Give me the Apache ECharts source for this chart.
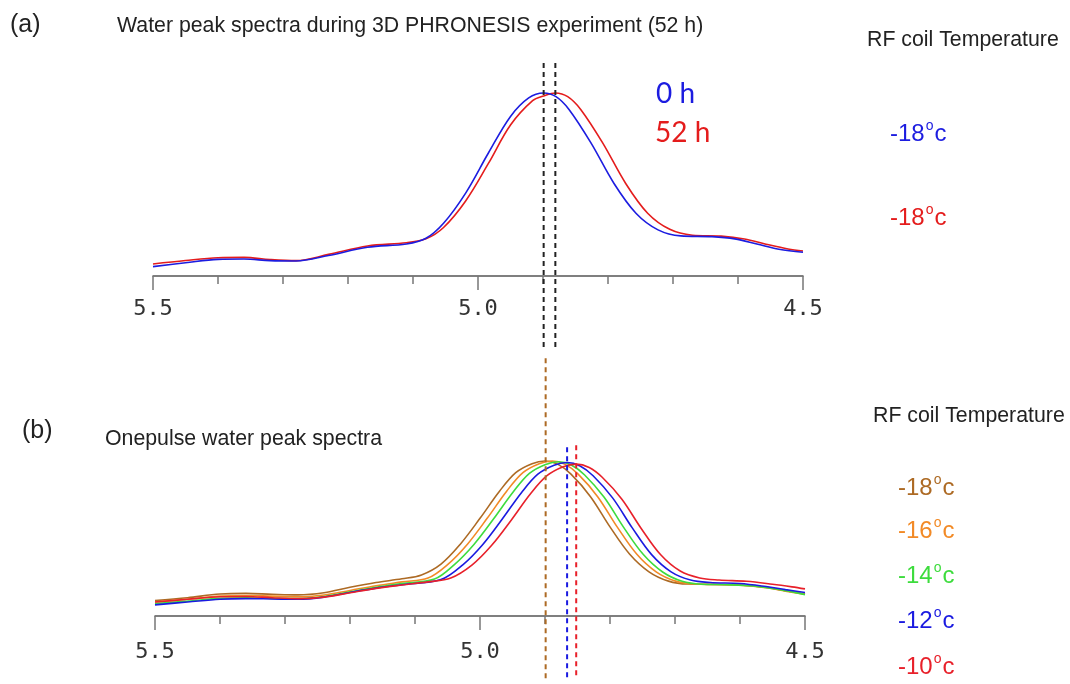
<!DOCTYPE html>
<html>
<head>
<meta charset="utf-8">
<script src="https://cdn.jsdelivr.net/npm/echarts@6/dist/echarts.min.js"></script>
<style>
  html, body { margin: 0; padding: 0; background: #ffffff; }
  #chart { width: 1070px; height: 684px; }
</style>
</head>
<body>
<div id="chart"></div>
<script>
// Water resonance: chemical shift (ppm) vs. relative intensity (peak = 100)

// (a) 3D PHRONESIS run, start and end of the 52 h acquisition
const water0h = [
  [5.500, 5.1], [5.450, 7.2], [5.400, 9.1], [5.360, 9.3], [5.320, 8.4], [5.280, 8.2],
  [5.230, 11.2], [5.170, 15.7], [5.110, 17.5], [5.080, 20.6], [5.053, 28.8], [5.019, 45.3],
  [4.984, 67.2], [4.950, 87.2], [4.922, 97.3], [4.899, 100], [4.880, 98.0], [4.860, 91.0],
  [4.826, 72.6], [4.791, 50.7], [4.757, 34.3], [4.723, 25.2], [4.688, 21.9], [4.640, 21.5],
  [4.605, 20.3], [4.571, 17.5], [4.537, 14.6], [4.500, 13.0]
];
const water52h = [
  [5.500, 6.6], [5.450, 8.5], [5.400, 10.0], [5.360, 10.2], [5.320, 9.0], [5.280, 8.4],
  [5.230, 11.8], [5.170, 16.4], [5.110, 18.2], [5.080, 20.3], [5.053, 26.5], [5.019, 41.0],
  [4.984, 61.5], [4.950, 82.5], [4.916, 95.8], [4.899, 98.4], [4.881, 100], [4.862, 98.0],
  [4.842, 91.0], [4.808, 72.6], [4.773, 50.7], [4.739, 34.3], [4.705, 25.5], [4.670, 22.3],
  [4.626, 21.8], [4.590, 20.2], [4.557, 17.4], [4.523, 14.8], [4.500, 13.7]
];
// peak positions marked with dashed guides: [ppm, top, bottom] (intensity units)
const peakGuidesA = [
  [4.899, 116.4, -39.3],
  [4.881, 116.4, -39.3]
];

// (b) one-pulse spectra at different RF coil temperatures
const coilM18 = [
  [5.500, 9.9], [5.450, 11.8], [5.400, 14.2], [5.360, 14.6], [5.320, 14.0], [5.280, 13.6],
  [5.240, 15.0], [5.200, 18.5], [5.160, 21.6], [5.120, 24.0], [5.090, 26.5], [5.060, 33.5],
  [5.030, 46.5], [5.000, 63.0], [4.970, 80.5], [4.945, 92.5], [4.920, 98.3], [4.900, 100],
  [4.880, 97.8], [4.860, 91.5], [4.830, 77.0], [4.800, 57.5], [4.770, 40.0], [4.740, 28.5],
  [4.710, 22.5], [4.680, 20.6], [4.640, 20.4], [4.600, 20.0], [4.560, 18.5], [4.530, 16.3],
  [4.500, 14.2]
];
const coilM16 = [
  [5.500, 9.0], [5.450, 10.8], [5.400, 12.8], [5.360, 13.2], [5.320, 12.8], [5.280, 12.4],
  [5.240, 13.6], [5.200, 16.5], [5.160, 19.5], [5.120, 22.0], [5.080, 24.5], [5.049, 33.5],
  [5.019, 46.5], [4.989, 63.0], [4.959, 80.5], [4.934, 92.5], [4.909, 98.3], [4.889, 100],
  [4.869, 97.8], [4.849, 91.5], [4.819, 77.0], [4.789, 57.5], [4.759, 40.0], [4.729, 28.5],
  [4.699, 22.5], [4.669, 20.6], [4.640, 20.3], [4.600, 19.8], [4.560, 18.2], [4.530, 16.0],
  [4.500, 14.0]
];
const coilM14 = [
  [5.500, 8.0], [5.450, 9.6], [5.400, 11.4], [5.360, 11.8], [5.320, 11.4], [5.280, 11.2],
  [5.240, 12.6], [5.200, 15.6], [5.160, 18.6], [5.120, 21.0], [5.070, 23.8], [5.039, 33.3],
  [5.009, 46.3], [4.979, 62.7], [4.949, 80.0], [4.924, 92.0], [4.899, 97.8], [4.879, 99.5],
  [4.859, 97.3], [4.839, 91.0], [4.809, 76.6], [4.779, 57.2], [4.749, 39.8], [4.719, 28.4],
  [4.689, 22.4], [4.659, 20.5], [4.620, 20.2], [4.580, 19.4], [4.540, 17.2], [4.500, 13.8]
];
const coilM12 = [
  [5.500, 7.2], [5.450, 9.0], [5.400, 10.8], [5.360, 11.2], [5.320, 11.0], [5.280, 10.8],
  [5.240, 12.2], [5.200, 15.2], [5.160, 18.0], [5.120, 20.2], [5.060, 23.5], [5.026, 33.2],
  [4.996, 46.0], [4.966, 62.4], [4.936, 79.7], [4.911, 91.5], [4.886, 97.3], [4.866, 99.0],
  [4.846, 96.8], [4.826, 90.5], [4.796, 76.2], [4.766, 57.0], [4.736, 39.6], [4.706, 28.5],
  [4.676, 23.2], [4.646, 21.6], [4.600, 21.0], [4.560, 19.0], [4.530, 17.0], [4.500, 15.2]
];
const coilM10 = [
  [5.500, 9.0], [5.450, 10.8], [5.400, 12.4], [5.360, 12.6], [5.320, 11.8], [5.280, 11.2],
  [5.240, 12.2], [5.200, 15.0], [5.160, 17.8], [5.120, 20.0], [5.080, 22.0], [5.045, 24.5],
  [5.012, 33.0], [4.982, 45.6], [4.952, 61.8], [4.922, 79.0], [4.897, 90.5], [4.872, 96.3],
  [4.852, 98.0], [4.832, 95.8], [4.812, 89.5], [4.782, 75.5], [4.752, 56.5], [4.722, 39.5],
  [4.692, 29.0], [4.662, 24.5], [4.632, 23.2], [4.590, 22.4], [4.550, 20.5], [4.520, 18.8],
  [4.500, 17.5]
];
// dashed guides at the -18, -12 and -10 degC peaks: [ppm, top, bottom]
const peakGuidesB = [
  [4.899, 166.3, -40.8],
  [4.866, 108.8, -40.8],
  [4.852, 110.1, -40.8]
];

const tickLabels = ['5.5', '5.0', '4.5'];
const legendA = ['0 h', '52 h'];
const tempsA = ['-18', '-18'];
const tempsB = ['-18', '-16', '-14', '-12', '-10'];

const C = {
  blue: '#1c1ce0', red: '#e41c1c',
  brown: '#ad6a24', orange: '#f28a26', green: '#3ddc3d', blueB: '#1a1ae0', redB: '#e8202a',
  axis: '#555555', tick: '#777777', text: '#222222'
};

const chart = echarts.init(document.getElementById('chart'), null, { renderer: 'canvas' });

function ppmAxis(gridIndex, margin) {
  return {
    type: 'value', gridIndex: gridIndex, inverse: true,
    min: 4.5, max: 5.5, interval: 0.5,
    axisLine: { show: true, onZero: false, lineStyle: { color: C.axis, width: 1.5 } },
    axisTick: { show: true, length: 14, lineStyle: { color: C.tick, width: 1.5 } },
    minorTick: { show: true, splitNumber: 5, length: 8, lineStyle: { color: C.tick, width: 1.5 } },
    splitLine: { show: false },
    minorSplitLine: { show: false },
    axisLabel: {
      margin: margin, fontFamily: 'DejaVu Sans Mono', fontSize: 22, color: '#333333',
      formatter: function (v) {
        const s = (Math.round(v * 10) / 10).toFixed(1);
        return tickLabels.indexOf(s) >= 0 ? s : '';
      }
    }
  };
}

function spectrum(data, color, axisIdx) {
  return {
    type: 'line', data: data, xAxisIndex: axisIdx, yAxisIndex: axisIdx,
    smooth: 0.35, showSymbol: false, symbol: 'none', silent: true, clip: false,
    lineStyle: { color: color, width: 1.6 }
  };
}

// vertical dashed guide from value[1] down to value[2] at chemical shift value[0]
function renderGuide(params, api) {
  const x = api.value(0);
  const p1 = api.coord([x, api.value(1)]);
  const p2 = api.coord([x, api.value(2)]);
  return {
    type: 'line',
    shape: { x1: p1[0], y1: p1[1], x2: p2[0], y2: p2[1] },
    style: { stroke: api.visual('color'), lineWidth: 2, lineDash: [5, 4] }
  };
}

function guides(rows, colors, axisIdx) {
  return {
    type: 'custom', xAxisIndex: axisIdx, yAxisIndex: axisIdx, clip: false, silent: true, z: 5,
    renderItem: renderGuide,
    encode: { x: 0, y: [1, 2] },
    data: rows.map(function (r, i) { return { value: r, itemStyle: { color: colors[i] } }; })
  };
}

function tempLabel(t, color, x, y) {
  return {
    type: 'text', left: x, top: y,
    style: {
      text: '{n|' + t + '}{s|o}{n|c}',
      rich: {
        n: { fontFamily: 'Liberation Sans', fontSize: 24, fill: color, verticalAlign: 'bottom', lineHeight: 27 },
        s: { fontFamily: 'Liberation Sans', fontSize: 14, fill: color, verticalAlign: 'top', lineHeight: 27, padding: [0, 1, 11, 1] }
      }
    }
  };
}

function plainText(txt, x, y, size, color, family) {
  return {
    type: 'text', left: x, top: y,
    style: { text: txt, fontFamily: family || 'Liberation Sans', fontSize: size, fill: color || C.text }
  };
}

const graphics = [
  plainText('(a)', 10, 13, 25),
  plainText('Water peak spectra during 3D PHRONESIS experiment (52 h)', 117, 16, 21.3),
  plainText('RF coil Temperature', 867, 30, 21.3),
  plainText(legendA[0], 656, 80, 28, C.blue, 'Lato'),
  plainText(legendA[1], 655, 119, 28, C.red, 'Lato'),
  tempLabel(tempsA[0], C.blue, 890, 119),
  tempLabel(tempsA[1], C.red, 890, 203),
  plainText('(b)', 22, 419, 25),
  plainText('Onepulse water peak spectra', 105, 429, 21.3),
  plainText('RF coil Temperature', 873, 406, 21.3),
  tempLabel(tempsB[0], C.brown, 898, 473),
  tempLabel(tempsB[1], C.orange, 898, 516),
  tempLabel(tempsB[2], C.green, 898, 561),
  tempLabel(tempsB[3], C.blueB, 898, 606),
  tempLabel(tempsB[4], C.redB, 898, 652)
];

const option = {
  backgroundColor: '#ffffff',
  animation: false,
  grid: [
    { left: 153, top: 93, width: 650, height: 183, containLabel: false, outerBoundsMode: 'none' },
    { left: 155, top: 461, width: 650, height: 155, containLabel: false, outerBoundsMode: 'none' }
  ],
  xAxis: [ppmAxis(0, 22), ppmAxis(1, 25)],
  yAxis: [
    { type: 'value', gridIndex: 0, min: 0, max: 100, show: false, splitLine: { show: false } },
    { type: 'value', gridIndex: 1, min: 0, max: 100, show: false, splitLine: { show: false } }
  ],
  series: [
    spectrum(water52h, C.red, 0),
    spectrum(water0h, C.blue, 0),
    guides(peakGuidesA, ['#222222', '#222222'], 0),
    spectrum(coilM18, C.brown, 1),
    spectrum(coilM16, C.orange, 1),
    spectrum(coilM14, C.green, 1),
    spectrum(coilM12, C.blueB, 1),
    spectrum(coilM10, C.redB, 1),
    guides(peakGuidesB, [C.brown, C.blueB, C.redB], 1)
  ],
  graphic: graphics
};

chart.setOption(option);
</script>
</body>
</html>
